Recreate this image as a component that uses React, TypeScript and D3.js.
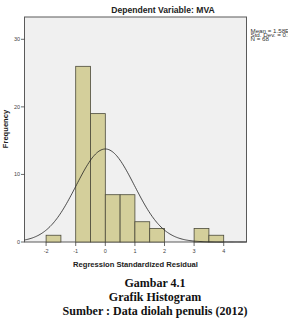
import React from 'react';
import * as d3 from 'd3';

// histogram of regression residuals (bin width 0.5)
const binStarts: number[] = [-2, -1.5, -1, -0.5, 0, 0.5, 1, 1.5, 2, 2.5, 3, 3.5];
const binCounts: number[] = [1, 0, 26, 19, 7, 7, 3, 2, 0, 0, 2, 1];
const xTicks: number[] = [-2, -1, 0, 1, 2, 3, 4];
const yTicks: number[] = [0, 10, 20, 30];
const statLines: string[] = ['Mean = 1.58E-16', 'Std. Dev. = 0.985', 'N = 68'];
const captionLines: string[] = ['Gambar 4.1', 'Grafik Histogram', 'Sumber : Data diolah penulis (2012)'];

const binWidth = 0.5;
const mean = 0;
const stdDev = 0.985;
const total = 68;

const W = 288;
const H = 323;
const plot = { left: 24.5, right: 246.5, top: 17, bottom: 242 };

const sans = 'Arial, "Liberation Sans", Helvetica, sans-serif';
const serif = '"Times New Roman", "Liberation Serif", serif';

const App: React.FC = () => {
  const x = d3.scaleLinear().domain([-2.73, 4.77]).range([plot.left, plot.right]);
  const y = d3.scaleLinear().domain([0, 33.3]).range([plot.bottom, plot.top]);

  const bins = binStarts.map((s, i) => ({ x0: s, x1: s + binWidth, n: binCounts[i] }));

  // fitted normal curve scaled to counts
  const peak = (total * binWidth) / (stdDev * Math.sqrt(2 * Math.PI));
  const [d0, d1] = x.domain();
  const curvePts = d3.range(0, 201).map((i) => {
    const v = d0 + ((d1 - d0) * i) / 200;
    return [v, peak * Math.exp(-((v - mean) ** 2) / (2 * stdDev * stdDev))] as [number, number];
  });
  const curve = d3
    .line<[number, number]>()
    .x((d) => x(d[0]))
    .y((d) => y(d[1]))
    .curve(d3.curveBasis)(curvePts);

  return (
    <svg
      width={W}
      height={H}
      style={{ position: 'absolute', left: 0, top: 0, background: '#fff' }}
    >
      <text x={163} y={13} textAnchor="middle" fontFamily={sans} fontWeight="bold" fontSize={8.6} fill="#222">
        Dependent Variable: MVA
      </text>

      <rect
        x={plot.left}
        y={plot.top}
        width={plot.right - plot.left}
        height={plot.bottom - plot.top}
        fill="#f0f0f0"
        stroke="#5a5a5a"
        strokeWidth={1}
      />

      {bins
        .filter((b) => b.n > 0)
        .map((b, i) => (
          <rect
            key={i}
            x={x(b.x0)}
            y={y(b.n)}
            width={x(b.x1) - x(b.x0)}
            height={y(0) - y(b.n)}
            fill="#d4cf9b"
            stroke="#4b4a3a"
            strokeWidth={0.8}
          />
        ))}

      <path d={curve ?? ''} fill="none" stroke="#222" strokeWidth={0.8} />

      {/* y axis */}
      {yTicks.map((t) => (
        <g key={t} transform={`translate(${plot.left},${y(t)})`}>
          <line x1={-3.5} x2={0} stroke="#444" strokeWidth={0.8} />
          <text x={-4.5} dy="0.35em" textAnchor="end" fontFamily={sans} fontSize={5.5} fill="#444">
            {t}
          </text>
        </g>
      ))}

      {/* x axis */}
      {xTicks.map((t) => (
        <g key={t} transform={`translate(${x(t)},${plot.bottom})`}>
          <line y1={0} y2={4} stroke="#444" strokeWidth={0.8} />
          <text y={10.5} textAnchor="middle" fontFamily={sans} fontSize={5.5} fill="#444">
            {t}
          </text>
        </g>
      ))}

      <text
        transform={`translate(8,129) rotate(-90)`}
        textAnchor="middle"
        fontFamily={sans}
        fontWeight="bold"
        fontSize={7.6}
        fill="#222"
      >
        Frequency
      </text>
      <text x={135.5} y={267} textAnchor="middle" fontFamily={sans} fontWeight="bold" fontSize={7.6} fill="#222">
        Regression Standardized Residual
      </text>

      {/* stats box text, runs off the right edge */}
      {statLines.map((s, i) => (
        <text
          key={s}
          transform={`translate(250.5,${33 + i * 3.85}) scale(1.35,1)`}
          fontFamily={sans}
          fontSize={4.6}
          fill="#333"
        >
          {s}
        </text>
      ))}

      {captionLines.map((s, i) => (
        <text
          key={s}
          x={155}
          y={287 + i * 13.8}
          textAnchor="middle"
          fontFamily={serif}
          fontWeight="bold"
          fontSize={12}
          fill="#111"
        >
          {s}
        </text>
      ))}
    </svg>
  );
};

export default App;
